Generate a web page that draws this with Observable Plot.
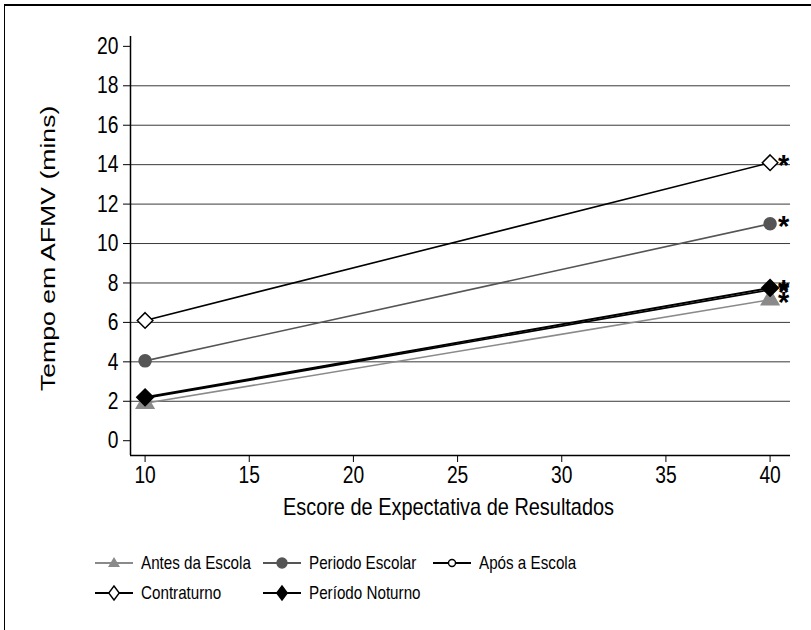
<!DOCTYPE html>
<html>
<head>
<meta charset="utf-8">
<script src="https://cdn.jsdelivr.net/npm/d3@7"></script>
<script src="https://cdn.jsdelivr.net/npm/@observablehq/plot@0.6"></script>
<style>
  body { margin: 0; background: #fff; font-family: "Liberation Sans", Arial, sans-serif; }
  #wrap { position: relative; width: 811px; height: 630px; overflow: hidden; background: #fff; }
  #frame { position: absolute; left: 4px; top: 4px; width: 820px; height: 640px; border-top: 2px solid #000; border-left: 1px solid #000; }
  #chart { position: absolute; left: 0; top: 0; }
  .leg { position: absolute; display: flex; align-items: center; color: #000; white-space: nowrap; }
  .leg svg { margin-right: 8px; flex: none; }
  .leg span { display: inline-block; font-size: 19px; transform: scaleX(0.8); transform-origin: left center; }
</style>
</head>
<body>
<div id="wrap">
  <div id="frame"></div>
  <div id="chart"></div>
</div>
<script>
// ---- data ----
const xValues = [10, 40];
const seriesNames = ["Antes da Escola", "Periodo Escolar", "Após a Escola", "Contraturno", "Período Noturno"];
const antes = [1.9, 7.15];
const escolar = [4.05, 11.0];
const apos = [2.15, 7.65];
const contraturno = [6.1, 14.1];
const noturno = [2.2, 7.75];
const yTicks = [0, 2, 4, 6, 8, 10, 12, 14, 16, 18, 20];
const xTicks = [10, 15, 20, 25, 30, 35, 40];
const gridValues = [2, 4, 6, 8, 10, 12, 14, 16, 18];
const yLabel = "Tempo em AFMV (mins)";
const xLabel = "Escore de Expectativa de Resultados";
const starLabel = "*";

// ---- styles per series ----
const styles = {
  "Antes da Escola": {stroke: "#8a8a8a", sw: 1.6, symbol: "triangle", fill: "#8a8a8a", mstroke: "#8a8a8a", r: 6.5},
  "Periodo Escolar": {stroke: "#555555", sw: 1.6, symbol: "circle", fill: "#555555", mstroke: "#555555", r: 6},
  "Após a Escola": {stroke: "#000000", sw: 1.6, symbol: "circle", fill: "#ffffff", mstroke: "#000000", r: 4},
  "Contraturno": {stroke: "#000000", sw: 1.6, symbol: "diamond2", fill: "#ffffff", mstroke: "#000000", r: 7},
  "Período Noturno": {stroke: "#000000", sw: 2, symbol: "diamond2", fill: "#000000", mstroke: "#000000", r: 7.5}
};

const valuesBySeries = {
  "Antes da Escola": antes,
  "Periodo Escolar": escolar,
  "Após a Escola": apos,
  "Contraturno": contraturno,
  "Período Noturno": noturno
};

const drawOrder = ["Antes da Escola", "Periodo Escolar", "Contraturno", "Após a Escola", "Período Noturno"];

const rows = [];
for (const s of seriesNames) {
  valuesBySeries[s].forEach((v, i) => rows.push({series: s, x: xValues[i], y: v}));
}

const marks = [];
marks.push(Plot.ruleY(gridValues, {stroke: "#3a3a3a", strokeWidth: 1}));
for (const s of drawOrder) {
  const st = styles[s];
  const d = rows.filter(r => r.series === s);
  marks.push(Plot.line(d, {x: "x", y: "y", stroke: st.stroke, strokeWidth: st.sw}));
  marks.push(Plot.dot(d, {x: "x", y: "y", symbol: () => st.symbol, r: st.r, fill: st.fill, stroke: st.mstroke, strokeWidth: st.symbol === "circle" && st.fill === "#ffffff" ? 1.3 : 1.5}));
}
// asterisks at the last point
const lastRows = rows.filter(r => r.x === xValues[xValues.length - 1]);
marks.push(Plot.text(lastRows, {x: "x", y: "y", text: () => starLabel, textAnchor: "start", dx: 8, dy: 3, fontSize: 29, fontWeight: "bold", fill: "#000"}));

// axes
marks.push(Plot.axisY({ticks: yTicks, tickSize: 7, tickPadding: 5, fontSize: 24, label: null, tickFormat: d => String(d)}));
marks.push(Plot.axisX({ticks: xTicks, tickSize: 7, tickPadding: 3, fontSize: 24, label: null, tickFormat: d => String(d)}));
marks.push(Plot.ruleX([9.30], {stroke: "#000", strokeWidth: 1.5}));
marks.push(Plot.ruleY([-0.75], {stroke: "#000", strokeWidth: 1.5}));
marks.push(Plot.text([yLabel], {frameAnchor: "left", rotate: -90, textAnchor: "start", dx: -82, dy: 145, fontSize: 20, fill: "#000"}));
marks.push(Plot.text([xLabel], {frameAnchor: "bottom", dy: 59, dx: -12, fontSize: 24, fill: "#000"}));

const chart = Plot.plot({
  width: 811,
  height: 630,
  marginLeft: 130,
  marginRight: 21,
  marginTop: 36,
  marginBottom: 175,
  style: {fontFamily: "'Liberation Sans', Arial, sans-serif", background: "transparent", color: "#000", overflow: "visible"},
  x: {domain: [9.30, 40.98]},
  y: {domain: [-0.75, 20.5]},
  marks
});
document.getElementById("chart").appendChild(chart);

// the reference's lettering is tall and narrow: squeeze horizontal texts, stretch the rotated label along its length
chart.querySelectorAll("text").forEach(t => {
  if (t.textContent === starLabel) return;
  const len = t.getComputedTextLength();
  if (!len) return;
  const factor = t.textContent === yLabel ? 1.33 : (t.textContent === xLabel ? 0.83 : 0.8);
  t.setAttribute("textLength", (len * factor).toFixed(1));
  t.setAttribute("lengthAdjust", "spacingAndGlyphs");
});

// ---- legend ----
const legendPos = [
  {left: 95, top: 563}, {left: 263, top: 563}, {left: 433, top: 563},
  {left: 95, top: 593}, {left: 263, top: 593}
];
const wrap = document.getElementById("wrap");
seriesNames.forEach((s, i) => {
  const st = styles[s];
  const div = document.createElement("div");
  div.className = "leg";
  div.style.left = legendPos[i].left + "px";
  div.style.top = (legendPos[i].top - 11) + "px";
  div.style.height = "22px";
  const w = 38, h = 22, cx = 19, cy = 11;
  let sym = "";
  if (st.symbol === "triangle") {
    sym = `<path d="M${cx},${cy - 6}L${cx + 6},${cy + 4}L${cx - 6},${cy + 4}Z" fill="${st.fill}"/>`;
  } else if (st.symbol === "circle") {
    const r = st.fill === "#ffffff" ? 3.5 : 5;
    sym = `<circle cx="${cx}" cy="${cy}" r="${r}" fill="${st.fill}" stroke="${st.mstroke}" stroke-width="1.4"/>`;
  } else {
    const r = 7;
    sym = `<path d="M${cx},${cy - r}L${cx + r * 0.75},${cy}L${cx},${cy + r}L${cx - r * 0.75},${cy}Z" fill="${st.fill}" stroke="${st.mstroke}" stroke-width="1.4"/>`;
  }
  div.innerHTML = `<svg width="${w}" height="${h}"><line x1="0" x2="${w}" y1="${cy}" y2="${cy}" stroke="${st.stroke}" stroke-width="2"/>${sym}</svg><span>${s}</span>`;
  wrap.appendChild(div);
});
</script>
</body>
</html>
